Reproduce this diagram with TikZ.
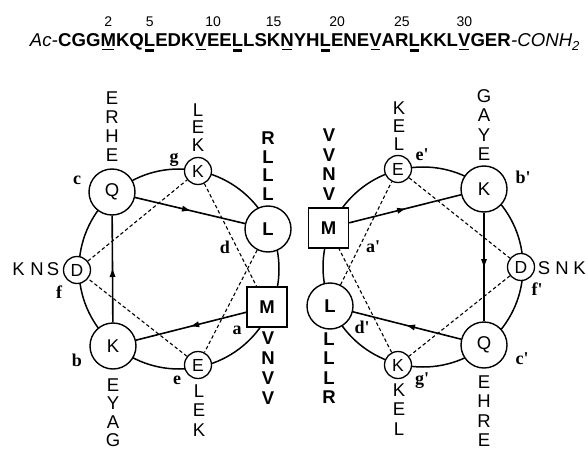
\documentclass[tikz,border=0pt]{standalone}
\usepackage{fontspec}
\setmainfont{Liberation Serif}
\setsansfont{Liberation Sans}
\usetikzlibrary{arrows.meta,decorations.markings}

\newsavebox\hdbox
\newsavebox\hdboxb
\newcommand\ula[1]{\sbox\hdbox{#1}\rlap{\hbox to\wd\hdbox{\hss\raisebox{-3.3pt}{\rule{0.78\wd\hdbox}{1.4pt}}\hss}}\usebox\hdbox}
\newcommand\uld[1]{\sbox\hdbox{#1}\rlap{\hbox to\wd\hdbox{\hss\raisebox{-5pt}{\rule{0.78\wd\hdbox}{3.4pt}}\hss}}\usebox\hdbox}
\newcommand\nmb[2]{\sbox\hdboxb{#2}\rlap{\hbox to\wd\hdboxb{\hss\raisebox{20pt}{\fontsize{14}{14}\selectfont\mdseries #1}\hss}}\usebox\hdboxb}

\tikzset{
  bignode/.style={circle, draw, fill=white, line width=1.4pt, minimum size=46pt, inner sep=0pt, font=\sffamily\fontsize{18.5}{18}\selectfont},
  smallnode/.style={circle, draw, fill=white, line width=1.3pt, minimum size=27pt, inner sep=0pt, font=\sffamily\fontsize{17.5}{17}\selectfont},
  sqnode/.style={rectangle, draw, fill=white, line width=1.5pt, minimum size=40pt, inner sep=0pt, font=\sffamily\bfseries\fontsize{18.5}{18}\selectfont},
  stk/.style={inner sep=0pt, font=\sffamily\fontsize{18.5}{18}\selectfont},
  stkb/.style={inner sep=0pt, font=\sffamily\bfseries\fontsize{18.5}{18}\selectfont},
  poslbl/.style={inner sep=0pt, font=\bfseries\fontsize{18}{18}\selectfont},
  wheel/.style={line width=1.5pt},
  seqarrow/.style={line width=1.6pt, postaction={decorate},
    decoration={markings, mark=at position 0.5 with {\arrow{Triangle[length=8pt,width=5.5pt]}}}},
  seqdash/.style={line width=1.1pt, dash pattern=on 3.5pt off 2.5pt},
}

\begin{document}
\begin{tikzpicture}[x=1pt,y=-1pt]
\useasboundingbox (0,0) rectangle (588,449);

% header
\node[anchor=base west, inner sep=0pt, font=\sffamily\bfseries\fontsize{18.6}{20}\selectfont] (seq) at (58,47)
 {CGG\nmb{2}{\ula{M}}KQ\nmb{5}{\uld{L}}EDK\ula{V}\nmb{10}{E}E\uld{L}LS\nmb{15}{K}\ula{N}YH\uld{L}\nmb{20}{E}NE\ula{V}A\nmb{25}{R}\uld{L}KKL\nmb{30}{\ula{V}}GER};
\node[anchor=base east, inner sep=0pt, font=\sffamily\itshape\fontsize{18.6}{20}\selectfont] (acl) at (seq.base west) {Ac-};
\node[anchor=base west, inner sep=0pt, font=\sffamily\itshape\fontsize{18.6}{20}\selectfont] (amd) at (seq.base east) {-CONH\textsubscript{2}};

% wheels
\draw[wheel] (179,269) circle[radius=100pt];
\draw[wheel] (423,267) circle[radius=100pt];

% left wheel nodes
\node[bignode] (Qc) at (112,192) {Q};
\node[smallnode] (Kg) at (198,171) {K};
\node[bignode, font=\sffamily\bfseries\fontsize{18.5}{18}\selectfont] (Ld) at (268,229) {L};
\node[smallnode] (Df) at (77,270) {D};
\node[bignode] (Kb) at (113,346) {K};
\node[smallnode] (Ee) at (198,365) {E};
\node[sqnode] (Ma) at (267,307) {M};

% right wheel nodes
\node[sqnode] (Ma2) at (328.5,228) {M};
\node[smallnode] (Ee2) at (398,169) {E};
\node[bignode] (Kb2) at (484,189) {K};
\node[smallnode] (Df2) at (521,267) {D};
\node[bignode] (Qc2) at (484,345) {Q};
\node[smallnode] (Kg2) at (398,365) {K};
\node[bignode, font=\sffamily\bfseries\fontsize{18.5}{18}\selectfont] (Ld2) at (330,306) {L};

% connectors left
\draw[seqarrow] (Ma) -- (Kb);
\draw[seqarrow] (Kb) -- (Qc);
\draw[seqarrow] (Qc) -- (Ld);
\draw[seqdash] (Ld) -- (Ee);
\draw[seqdash] (Ee) -- (Df);
\draw[seqdash] (Df) -- (Kg);
\draw[seqdash] (Kg) -- (Ma);

% connectors right
\draw[seqarrow] (Ma2) -- (Kb2);
\draw[seqarrow] (Kb2) -- (Qc2);
\draw[seqarrow] (Qc2) -- (Ld2);
\draw[seqdash] (Ld2) -- (Ee2);
\draw[seqdash] (Ee2) -- (Df2);
\draw[seqdash] (Df2) -- (Kg2);
\draw[seqdash] (Kg2) -- (Ma2);

% position labels
\node[poslbl] (la) at (237,330) {a};
\node[poslbl] (lb) at (77,360) {b};
\node[poslbl] (lc) at (77,180) {c};
\node[poslbl] (ld) at (225,247) {d};
\node[poslbl] (le) at (177,380) {e};
\node[poslbl] (lf) at (59,292) {f};
\node[poslbl] (lg) at (174,160) {g};
\node[poslbl] (la2) at (373,247) {a\textquotesingle};
\node[poslbl] (lb2) at (523,177) {b\textquotesingle};
\node[poslbl] (lc2) at (522,359) {c\textquotesingle};
\node[poslbl] (ld2) at (362,327) {d\textquotesingle};
\node[poslbl] (le2) at (422,155) {e\textquotesingle};
\node[poslbl] (lf2) at (537,289) {f\textquotesingle};
\node[poslbl] (lg2) at (422,381) {g\textquotesingle};

% stacks left
\foreach \t/\yy [count=\i] in {E/98,R/117,H/136,E/155} \node[stk] (sc\i) at (112,\yy) {\t};
\foreach \t/\yy [count=\i] in {L/110,E/127.5,K/145} \node[stk] (sg\i) at (198,\yy) {\t};
\foreach \t/\yy [count=\i] in {R/138,L/156.7,L/175.3,L/194} \node[stkb] (sd\i) at (268,\yy) {\t};
\foreach \t/\xx [count=\i] in {K/18.5,N/37,S/53} \node[stk] (sf\i) at (\xx,269) {\t};
\foreach \t/\yy [count=\i] in {E/385,Y/403.3,A/421.7,G/440} \node[stk] (sb\i) at (113,\yy) {\t};
\foreach \t/\yy [count=\i] in {L/391,E/410.5,K/430} \node[stk] (se\i) at (199,\yy) {\t};
\foreach \t/\yy [count=\i] in {V/338,N/358,V/378,V/398} \node[stkb] (sa\i) at (268,\yy) {\t};

% stacks right
\foreach \t/\yy [count=\i] in {V/135,V/154.7,N/174.3,V/194} \node[stkb] (ta\i) at (329,\yy) {\t};
\foreach \t/\yy [count=\i] in {K/108,E/126,L/144} \node[stk] (te\i) at (399,\yy) {\t};
\foreach \t/\yy [count=\i] in {G/96,A/115.3,Y/134.7,E/154} \node[stk] (tb\i) at (484,\yy) {\t};
\foreach \t/\xx [count=\i] in {S/544,N/562,K/579.5} \node[stk] (tf\i) at (\xx,268) {\t};
\foreach \t/\yy [count=\i] in {E/382,H/401.3,R/420.7,E/440} \node[stk] (tc\i) at (484,\yy) {\t};
\foreach \t/\yy [count=\i] in {K/390,E/409.5,L/429} \node[stk] (tg\i) at (399,\yy) {\t};
\foreach \t/\yy [count=\i] in {L/339,L/358.3,L/377.7,R/397} \node[stkb] (td\i) at (329,\yy) {\t};
\end{tikzpicture}
\end{document}
